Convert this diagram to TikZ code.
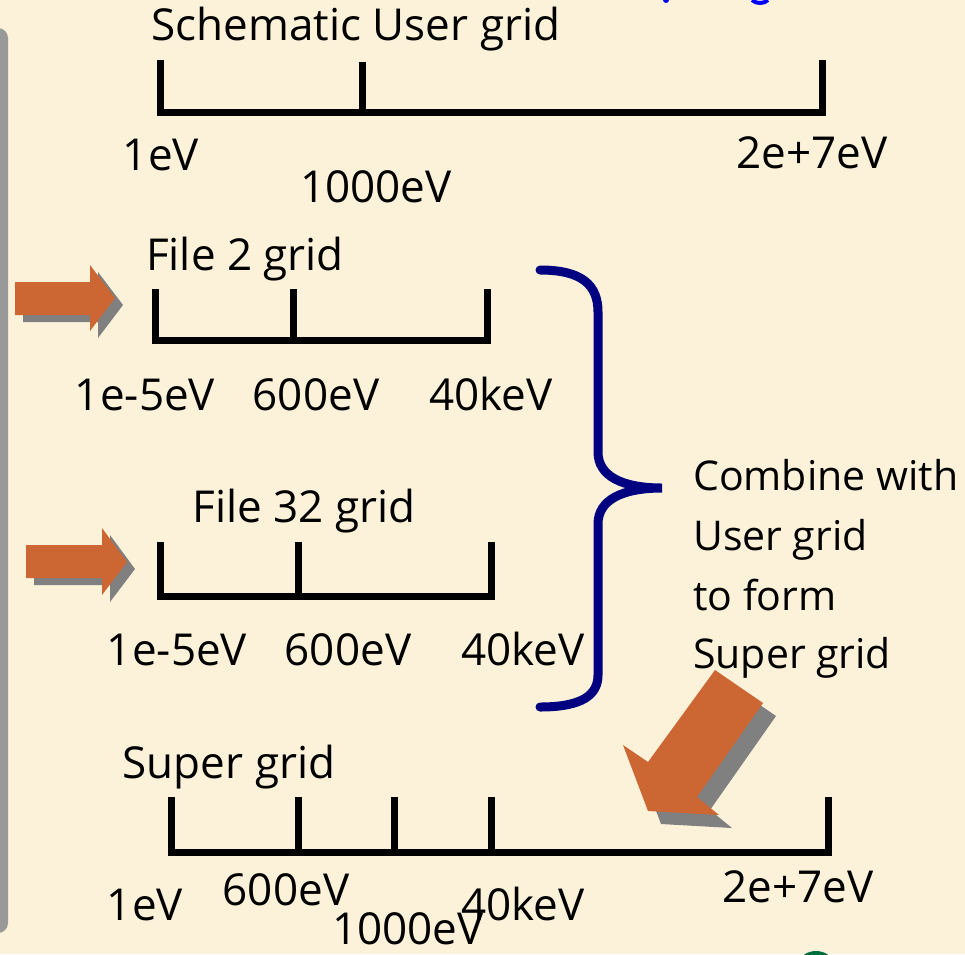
\documentclass[tikz,border=0pt]{standalone}
\usepackage{fontspec}
\setmainfont{Open Sans}
\newcommand\lbfont{\fontsize{44}{58}\selectfont}
\newcommand\cbfont{\fontsize{41}{58}\selectfont}
\definecolor{parch}{RGB}{252,241,217}
\definecolor{orng}{RGB}{204,102,51}
\definecolor{shad}{RGB}{128,128,128}
\definecolor{bar}{RGB}{153,153,153}
\definecolor{navy}{RGB}{0,0,128}
\definecolor{dgreen}{RGB}{0,110,60}
\tikzset{
  lbl/.style={font=\lbfont, inner sep=0pt, anchor=base, text=black},
  lbll/.style={lbl, font=\cbfont, anchor=base west},
  gridline/.style={line width=7pt, black, line join=miter, line cap=rect},
  arrfill/.style={fill=orng, draw=none},
  arrshad/.style={fill=shad, draw=none},
  bracestyle/.style={line width=9pt, navy, line cap=round}
}
\begin{document}
\begin{tikzpicture}[x=1pt,y=-1pt]
\useasboundingbox (0,0) rectangle (965,954);
\clip (0,0) rectangle (965,954);
\fill[parch] (0,0) rectangle (965,954);
% left grey bar
\fill[bar, rounded corners=10pt] (-30,28) rectangle (8,933);
% blue fragments at top
\fill[blue] (666,0) ellipse (3pt and 3pt);
\draw[blue, line width=4pt] (752,0) .. controls (756,4) and (764,4) .. (768,0);
% green bump at bottom
\fill[dgreen] (816,964) ellipse (17pt and 13pt);

% ---------- Schematic User grid
\node[lbl] (tUser) at (356,40) {Schematic User grid};
\draw[gridline] (160,63) -- (160,112) -- (822,112) -- (822,63);
\draw[gridline] (362,65) -- (362,112);
\node[lbl] (u1) at (161,170) {1eV};
\node[lbl] (u2) at (376,202) {1000eV};
\node[lbl] (u3) at (812,168) {2e+7eV};

% ---------- File 2 grid
\node[lbl] (tF2) at (245,270) {File 2 grid};
\draw[gridline] (155,292) -- (155,340) -- (487,340) -- (487,292);
\draw[gridline] (293,292) -- (293,340);
\node[lbl] (a1) at (145,410) {1e-5eV};
\node[lbl] (a2) at (316,410) {600eV};
\node[lbl] (a3) at (491,410) {40keV};

% ---------- File 32 grid
\node[lbl] (tF32) at (304,522) {File 32 grid};
\draw[gridline] (160,545) -- (160,596) -- (491,596) -- (491,545);
\draw[gridline] (298,545) -- (298,596);
\node[lbl] (b1) at (177,665) {1e-5eV};
\node[lbl] (b2) at (348,665) {600eV};
\node[lbl] (b3) at (523,665) {40keV};

% ---------- horizontal arrows
\begin{scope}[shift={(8,7)}]
\fill[arrshad] (15,282) -- (90,282) -- (90,265) -- (115,298) -- (90,331) -- (90,315) -- (15,315) -- cycle;
\fill[arrshad] (26,545) -- (102,545) -- (102,528) -- (127,562) -- (102,595) -- (102,578) -- (26,578) -- cycle;
\end{scope}
\fill[arrfill] (15,282) -- (90,282) -- (90,265) -- (115,298) -- (90,331) -- (90,315) -- (15,315) -- cycle;
\fill[arrfill] (26,545) -- (102,545) -- (102,528) -- (127,562) -- (102,595) -- (102,578) -- (26,578) -- cycle;

% ---------- brace
\draw[bracestyle] (540,270) .. controls (582,270) and (598,285) .. (598,312)
  -- (598,452) .. controls (598,476) and (622,488) .. (662,488)
  .. controls (622,488) and (598,500) .. (598,524)
  -- (598,675) .. controls (598,695) and (582,707) .. (540,707);

% ---------- combine text
\node[lbll] (c1) at (693,490) {Combine with};
\node[lbll] (c2) at (693,550) {User grid};
\node[lbll] (c3) at (693,610) {to form};
\node[lbll] (c4) at (693,668) {Super grid};

% ---------- diagonal arrow
\begin{scope}[shift={(13,13)}]
\fill[arrshad] (715,670) -- (763,703) -- (697,797) -- (719,815) -- (648,811) -- (623,745) -- (648,762) -- cycle;
\end{scope}
\fill[arrfill] (715,670) -- (763,703) -- (697,797) -- (719,815) -- (648,811) -- (623,745) -- (648,762) -- cycle;

% ---------- Super grid
\node[lbl] (tS) at (229,778) {Super grid};
\draw[gridline] (171,800) -- (171,852) -- (828,852) -- (828,800);
\draw[gridline] (298,800) -- (298,852);
\draw[gridline] (394,800) -- (394,852);
\draw[gridline] (491,800) -- (491,852);
\node[lbl] (s1) at (145,920) {1eV};
\node[lbl] (s2) at (286,905) {600eV};
\node[lbl] (s3) at (408,944) {1000eV};
\node[lbl] (s4) at (523,920) {40keV};
\node[lbl] (s5) at (798,902) {2e+7eV};
\end{tikzpicture}
\end{document}
